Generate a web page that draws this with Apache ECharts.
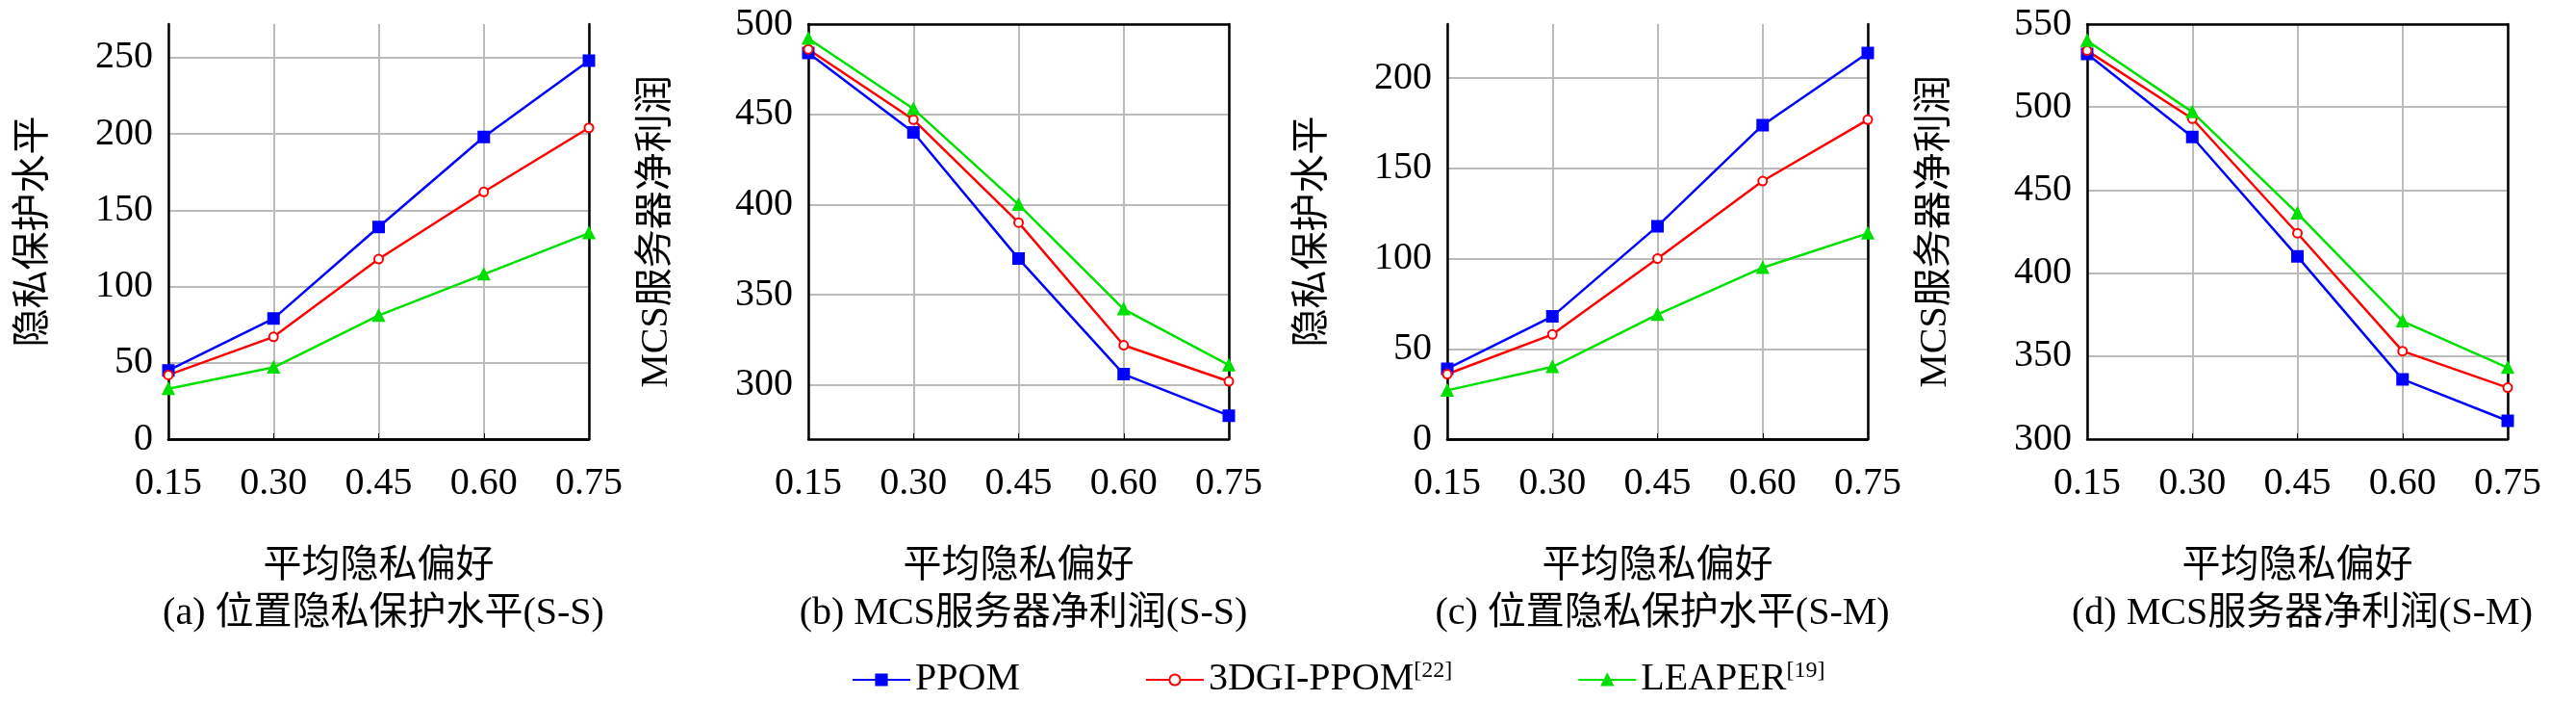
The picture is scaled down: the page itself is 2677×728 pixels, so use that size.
<!DOCTYPE html>
<html><head><meta charset="utf-8">
<script src="https://cdn.jsdelivr.net/npm/echarts@6/dist/echarts.min.js"></script>
<style>html,body{margin:0;padding:0;background:#fff}#c{width:2677px;height:728px}</style>
</head><body><div id="c"></div>
<script>
const categories = ['0.15','0.30','0.45','0.60','0.75'];
const seriesNames = ['PPOM','3DGI-PPOM','LEAPER'];
const a_PPOM = [45,79,139,198,248];
const a_3DGI = [42,67,118,162,204];
const a_LEAPER = [33,47,81,108,135];
const b_PPOM = [484,440,370,306,283];
const b_3DGI = [486,447,390,322,302];
const b_LEAPER = [492,453,400,342,311];
const c_PPOM = [39,68,118,174,214];
const c_3DGI = [36,58,100,143,177];
const c_LEAPER = [27,40,69,95,114];
const d_PPOM = [532,482,410,336,311];
const d_3DGI = [534,493,424,353,331];
const d_LEAPER = [540,497,436,371,343];
const yNames = ['隐私保护水平','MCS服务器净利润','隐私保护水平','MCS服务器净利润'];
const captions = ['(a) 位置隐私保护水平(S-S)','(b) MCS服务器净利润(S-S)','(c) 位置隐私保护水平(S-M)','(d) MCS服务器净利润(S-M)'];
const xName = '平均隐私偏好';
const yRanges = [[0,272],[270,500],[0,230],[300,550]];
const yTicks = [[0,50,100,150,200,250],[300,350,400,450,500],[0,50,100,150,200],[300,350,400,450,500,550]];

const panels = [[a_PPOM,a_3DGI,a_LEAPER],[b_PPOM,b_3DGI,b_LEAPER],[c_PPOM,c_3DGI,c_LEAPER],[d_PPOM,d_3DGI,d_LEAPER]];
const lefts = [175,840,1504,2169];
const W = 437;
const colors = ['#0000ff','#ff0000','#00e000'];
const symbols = ['rect','emptyCircle','triangle'];
const font = '"Liberation Serif","DejaVu Serif","Noto Sans CJK SC",serif';
const grids=[],xAxes=[],yAxes=[],series=[],titles=[];
const lineSt={color:'#000',width:2.5};
panels.forEach((p,i)=>{
  grids.push({left:lefts[i],width:W,top:25,height:431});
  xAxes.push({type:'category',gridIndex:i,data:categories,boundaryGap:false,
    name:xName,nameLocation:'middle',nameGap:112,nameTextStyle:{fontSize:40,fontFamily:font,color:'#000'},
    axisLine:{lineStyle:lineSt},axisTick:{inside:true,length:6,lineStyle:{color:'#000'}},
    axisLabel:{fontSize:40,fontFamily:font,color:'#000',margin:26},
    splitLine:{show:true,lineStyle:{color:'#bbb',width:2}}});
  xAxes.push({type:'category',gridIndex:i,data:categories,boundaryGap:false,position:'top',
    axisLine:{lineStyle:lineSt},axisTick:{show:false},axisLabel:{show:false},splitLine:{show:false}});
  const r=yRanges[i];
  yAxes.push({type:'value',gridIndex:i,min:r[0],max:r[1],
    name:yNames[i],nameLocation:'middle',nameGap:i===0||i===2?120:138,nameTextStyle:{fontSize:40,fontFamily:font,color:'#000'},
    axisLine:{show:true,lineStyle:lineSt},axisTick:{inside:true,length:6,lineStyle:{color:'#000'},customValues:yTicks[i]},
    axisLabel:{fontSize:40,fontFamily:font,color:'#000',margin:16,customValues:yTicks[i]},
    splitLine:{show:true,lineStyle:{color:'#bbb',width:2}}});
  yAxes.push({type:'value',gridIndex:i,min:r[0],max:r[1],position:'right',
    axisLine:{show:true,lineStyle:lineSt},axisTick:{show:false},axisLabel:{show:false},splitLine:{show:false}});
  p.forEach((d,j)=>series.push({type:'line',name:seriesNames[j],xAxisIndex:2*i,yAxisIndex:2*i,data:d,
    symbol:symbols[j],symbolSize:j===1?9:11,lineStyle:{color:colors[j],width:2.5},itemStyle:{color:colors[j],borderColor:colors[j],borderWidth:2}}));
  titles.push({text:captions[i],left:lefts[i]+W/2,top:612,textAlign:'center',textStyle:{fontSize:40,fontWeight:'normal',fontFamily:font,color:'#000'}});
});
const sup={'PPOM':'','3DGI-PPOM':'{s|[22]}','LEAPER':'{s|[19]}'};
const chart=echarts.init(document.getElementById('c'));
chart.setOption({animation:false,title:titles,grid:grids,xAxis:xAxes,yAxis:yAxes,series:series,
  legend:{top:680,left:880,itemGap:130,itemWidth:60,itemHeight:14,
    data:seriesNames,
    formatter:n=>'{n|'+n+'}'+sup[n],
    textStyle:{rich:{n:{fontSize:40,fontFamily:font,color:'#000'},s:{fontSize:24,fontFamily:font,color:'#000',verticalAlign:'top',padding:[0,0,18,0]}}}}});
</script></body></html>
